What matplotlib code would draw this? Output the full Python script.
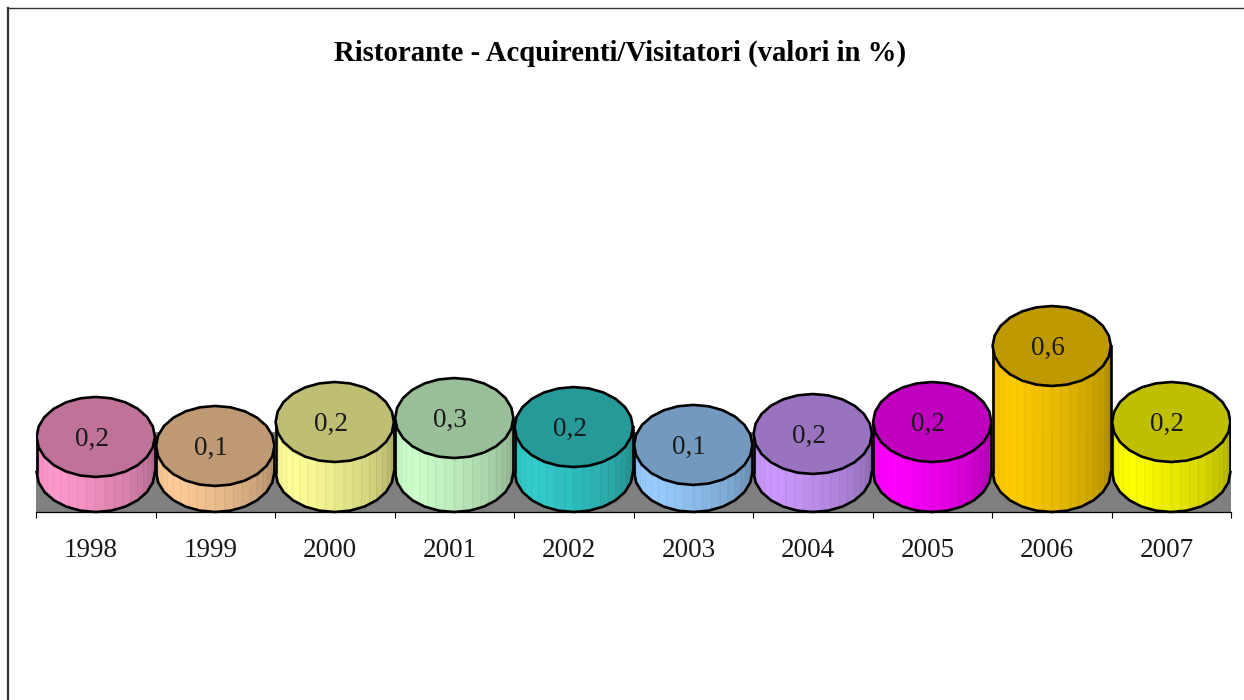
import numpy as np
import matplotlib
matplotlib.use('Agg')
import matplotlib.pyplot as plt
from matplotlib.colors import to_rgb
from matplotlib.lines import Line2D
from matplotlib.patches import Polygon, Rectangle

# Data
years = ['1998', '1999', '2000', '2001', '2002', '2003', '2004', '2005', '2006', '2007']
values = [0.167, 0.124, 0.238, 0.257, 0.214, 0.129, 0.181, 0.238, 0.60, 0.238]
labels = ['0,2', '0,1', '0,2', '0,3', '0,2', '0,1', '0,2', '0,2', '0,6', '0,2']
colors = ['#FF99CC', '#FFCC99', '#FFFF99', '#CCFFCC', '#33CCCC',
          '#99CCFF', '#CC99FF', '#FF00FF', '#FFCC00', '#FFFF00']

W, H = 1244, 700
plt.rcParams['font.family'] = ['Liberation Serif', 'DejaVu Serif']

fig = plt.figure(figsize=(W / 100, H / 100), dpi=100)

# Plot area in pixels: baseline at y=512, 119.5 px per category
ax = fig.add_axes([36 / W, (H - 512) / H, 1195 / W, 412 / H])
px_per_unit = 210
depth = 40 / px_per_unit  # half height of the ellipse, in value units
ax.set_xlim(0, len(years))
ax.set_ylim(-depth, (472 - 100) / px_per_unit)

ax.add_patch(Rectangle((0, -depth), len(years), 2 * depth, fc='#808080', ec='none', zorder=1))

# Cylinders
n_facets = 24
n_strips = 20
line_w = 1.9
half_w = 0.495
for i, (v, lab, col) in enumerate(zip(values, labels, colors)):
    cx = i + 0.5
    base = np.array(to_rgb(col))

    # front side, cut in vertical strips from left to right
    t = np.linspace(np.pi, 2 * np.pi, n_strips + 1)
    xs = cx + half_w * np.cos(t)
    ys = depth * np.sin(t)
    for k in range(n_strips):
        pos = (k + 0.5) / n_strips
        if pos < 0.25:
            shade = 0.92 + 0.08 * pos / 0.25
        else:
            shade = 1.0 - 0.34 * ((pos - 0.25) / 0.75) ** 1.3
        quad = [(xs[k], ys[k]), (xs[k + 1], ys[k + 1]),
                (xs[k + 1], ys[k + 1] + v), (xs[k], ys[k] + v)]
        ax.add_patch(Polygon(quad, fc=base * shade, ec=base * shade * 0.95, lw=0.5,
                             zorder=2 + i, clip_on=False))

    # outline of the side
    ax.plot([xs[0], xs[0]], [0, v], color='black', lw=line_w, zorder=2 + i)
    ax.plot([xs[-1], xs[-1]], [0, v], color='black', lw=line_w, zorder=2 + i)
    t2 = np.linspace(np.pi, 2 * np.pi, n_facets // 2 + 1)
    ax.plot(cx + half_w * np.cos(t2), depth * np.sin(t2), color='black', lw=line_w,
            zorder=2 + i, clip_on=False)

    # top lid
    t3 = np.linspace(0, 2 * np.pi, n_facets + 1)
    lid = np.column_stack([cx + half_w * np.cos(t3), v + depth * np.sin(t3)])
    ax.add_patch(Polygon(lid, closed=True, fc=base * 0.75, ec='black', lw=line_w,
                         zorder=2 + i, joinstyle='round'))

    ax.annotate(lab, (cx, v), xytext=(-3, -2), textcoords='offset points',
                ha='center', va='center', fontsize=19.5, color='#1a1a1a', zorder=30)

# Axis: only the baseline with ticks between the categories
for s in ['left', 'right', 'top']:
    ax.spines[s].set_visible(False)
ax.spines['bottom'].set_linewidth(0.9)
ax.spines['bottom'].set_zorder(40)
ax.set_yticks([])
ax.set_xticks(np.arange(len(years) + 1))
ax.set_xticklabels([])
ax.tick_params(axis='x', which='major', length=4.5, width=0.8)
ax.set_xticks(np.arange(len(years)) + 0.5 - 0.04, labels=years, minor=True)
ax.tick_params(axis='x', which='minor', length=0, pad=18.5, labelsize=19.5, labelcolor='#1a1a1a')
ax.patch.set_alpha(0)

fig.text(620.5 / W, 1 - 53 / H, 'Ristorante - Acquirenti/Visitatori (valori in %)',
         ha='center', va='center', fontsize=20.7, fontweight='bold')

# Chart frame, cut off by the right and bottom of the image
fig.add_artist(Line2D([8 / W, 8 / W], [0, 1 - 8 / H], color='#333333', lw=1.6))
fig.add_artist(Line2D([8 / W, 1], [1 - 8 / H, 1 - 8 / H], color='#333333', lw=1.0))

fig.savefig('out.png', dpi=100)
